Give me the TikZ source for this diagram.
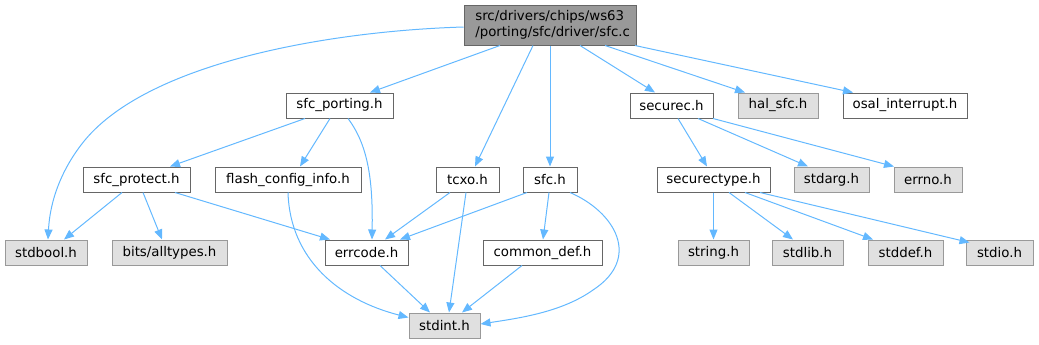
\documentclass[tikz,border=0pt]{standalone}
\usepackage{fontspec}
\setmainfont{DejaVu Sans}
\usetikzlibrary{calc,arrows.meta}
\definecolor{edgeblue}{HTML}{63B8FF}
\definecolor{boxborder}{HTML}{666666}
\definecolor{extborder}{HTML}{999999}
\definecolor{extfill}{HTML}{E0E0E0}
\definecolor{rootfill}{HTML}{999999}
\tikzset{
  x=0.75pt, y=-0.75pt,
  filebox/.style={draw=boxborder, fill=white, line width=0.75pt, inner sep=0pt,
    minimum height=18.75pt, font=\fontsize{10pt}{12pt}\selectfont},
  extbox/.style={filebox, draw=extborder, fill=extfill},
  rootbox/.style={filebox, fill=rootfill, minimum height=30pt, align=left},
  edge/.style={draw=edgeblue, line width=0.75pt,
    -{Triangle[length=7.5pt,width=6pt]}},
}
\newcommand{\fnode}[5]{\node[#1, minimum width=#4*0.75pt] (#2) at (#3) {#5};}
\begin{document}
\begin{tikzpicture}
\useasboundingbox (0,0) rectangle (1039,344);
% root
\node[rootbox, minimum width=129pt, text width=112pt] (root) at (550,25) {src/drivers/chips/ws63\\/porting/sfc/driver/sfc.c};
% row 2
\fnode{filebox}{sfcporting}{339.5,105.5}{107}{sfc\_porting.h}
\fnode{filebox}{securec}{671.5,105.5}{83}{securec.h}
\fnode{extbox}{halsfc}{778,105.5}{80}{hal\_sfc.h}
\fnode{filebox}{osal}{905,105.5}{124}{osal\_interrupt.h}
% row 3
\fnode{filebox}{sfcprotect}{136.5,179.5}{107}{sfc\_protect.h}
\fnode{filebox}{flashcfg}{288,179.5}{146}{flash\_config\_info.h}
\fnode{filebox}{tcxo}{467.5,179.5}{63}{tcxo.h}
\fnode{filebox}{sfch}{550,179.5}{54}{sfc.h}
\fnode{filebox}{securectype}{713.5,179.5}{113}{securectype.h}
\fnode{extbox}{stdarg}{831.5,179.5}{75}{stdarg.h}
\fnode{extbox}{errno}{928,179.5}{68}{errno.h}
% row 4
\fnode{extbox}{stdbool}{46,252.5}{82}{stdbool.h}
\fnode{extbox}{alltypes}{169.5,252.5}{115}{bits/alltypes.h}
\fnode{filebox}{errcode}{366.5,252.5}{83}{errcode.h}
\fnode{filebox}{commondef}{542.5,252.5}{119}{common\_def.h}
\fnode{extbox}{string}{713.5,252.5}{71}{string.h}
\fnode{extbox}{stdlib}{807.5,252.5}{71}{stdlib.h}
\fnode{extbox}{stddef}{905.5,252.5}{75}{stddef.h}
\fnode{extbox}{stdio}{999.5,252.5}{67}{stdio.h}
% row 5
\fnode{extbox}{stdint}{444.5,325.5}{71}{stdint.h}

% edges from root
\draw[edge] ($(root.west)+(0,2)$) .. controls (330,31) and (150,62) .. (85,140)
  .. controls (62,168) and (50,200) .. ($(stdbool.north)+(2,0)$);
\draw[edge] ($(root.south)+(-50,0)$) -- ($(sfcporting.north)+(30.5,0)$);
\draw[edge] ($(root.south)+(-17,0)$) -- ($(tcxo.north)+(7.5,0)$);
\draw[edge] (root.south) -- (sfch.north);
\draw[edge] ($(root.south)+(30,0)$) -- ($(securec.north)+(-16.5,0)$);
\draw[edge] ($(root.south)+(55,0)$) -- ($(halsfc.north)+(-33,0)$);
\draw[edge] ($(root.south)+(85,0)$) -- ($(osal.north)+(-52,0)$);
% sfc_porting.h
\draw[edge] ($(sfcporting.south)+(-34.5,0)$) -- ($(sfcprotect.north)+(33.5,0)$);
\draw[edge] ($(sfcporting.south)+(-9.5,0)$) -- ($(flashcfg.north)+(12,0)$);
\draw[edge] ($(sfcporting.south)+(8.5,0)$) .. controls (368,145) and (373,180) .. ($(errcode.north)+(5.5,0)$);
% sfc_protect.h
\draw[edge] ($(sfcprotect.south)+(-14.5,0)$) -- ($(stdbool.north)+(18,0)$);
\draw[edge] ($(sfcprotect.south)+(6.5,0)$) -- ($(alltypes.north)+(-7.5,0)$);
\draw[edge] ($(sfcprotect.south)+(38.5,0)$) -- ($(errcode.north)+(-36.5,0)$);
% flash_config_info.h
\draw[edge] (flashcfg.south) .. controls (290,260) and (340,300) .. ($(stdint.west)+(0,-8)$);
% tcxo.h
\draw[edge] ($(tcxo.south)+(-17.5,0)$) -- ($(errcode.north)+(18.5,0)$);
\draw[edge] ($(tcxo.south)+(-1.5,0)$) -- ($(stdint.north)+(4.5,0)$);
% sfc.h
\draw[edge] ($(sfch.south)+(-23,0)$) -- ($(errcode.north)+(33.5,0)$);
\draw[edge] ($(sfch.south)+(-1,0)$) -- ($(commondef.north)+(0.5,0)$);
\draw[edge] ($(sfch.south)+(20,0)$) .. controls (615,212) and (642,258) .. (593,290)
  .. controls (562,312) and (520,318) .. ($(stdint.east)+(0,-1.5)$);
% common_def.h, errcode.h
\draw[edge] ($(commondef.south)+(-20.5,0)$) -- ($(stdint.north)+(17.5,0)$);
\draw[edge] ($(errcode.south)+(13.5,0)$) -- ($(stdint.north)+(-14.5,0)$);
% securec.h
\draw[edge] ($(securec.south)+(6.5,0)$) -- ($(securectype.north)+(-6.5,0)$);
\draw[edge] ($(securec.south)+(26.5,0)$) -- ($(stdarg.north)+(-23.5,0)$);
\draw[edge] ($(securec.south)+(41.5,0)$) -- ($(errno.north)+(-34,0)$);
% securectype.h
\draw[edge] (securectype.south) -- (string.north);
\draw[edge] ($(securectype.south)+(15.5,0)$) -- ($(stdlib.north)+(-14.5,0)$);
\draw[edge] ($(securectype.south)+(31.5,0)$) -- ($(stddef.north)+(-32.5,0)$);
\draw[edge] ($(securectype.south)+(46.5,0)$) -- ($(stdio.north)+(-30,3)$);
\end{tikzpicture}
\end{document}
